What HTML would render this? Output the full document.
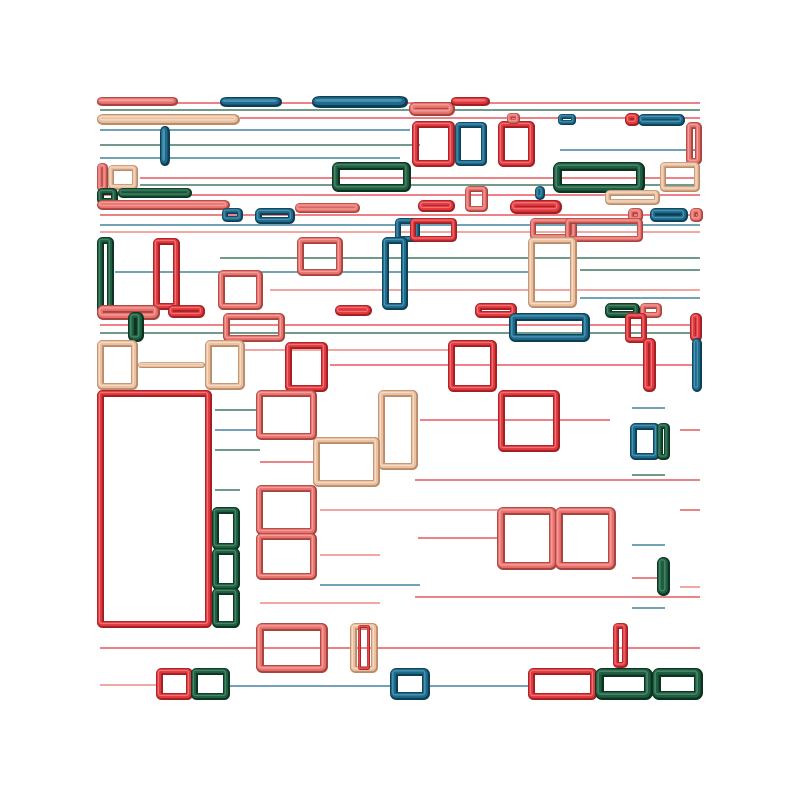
<!DOCTYPE html>
<html><head><meta charset="utf-8"><style>html,body{margin:0;padding:0;background:#fff;}svg{display:block}</style></head>
<body>
<svg id="s" width="800" height="800" xmlns="http://www.w3.org/2000/svg"></svg>
<script>
const C={r:['#9e1f24','#e0383d','#f58a8c'],s:['#a8443f','#e8736f','#f7b0ac'],b:['#bb8c6c','#e9c0a0','#fbe6d4'],u:['#0c3f55','#1e6a8a','#5fa2c0'],g:['#0b3321','#1f5e40','#5a9478']};
const L=[
[100,103,700,103,'r'],[100,110,700,110,'g'],[240,118,700,118,'r'],[100,130,410,130,'u'],[100,145,420,145,'g'],[100,158,400,158,'u'],[560,150,700,150,'u'],
[140,178,700,178,'r'],[140,185,700,185,'g'],[100,195,700,195,'r'],[100,215,700,215,'r'],[100,225,700,225,'u'],[100,232,700,232,'s'],[220,258,700,258,'g'],
[115,272,530,272,'u'],[270,290,700,290,'s'],[100,325,700,325,'r'],[100,333,700,333,'g'],[330,365,700,365,'r'],[245,350,450,350,'s'],[420,420,610,420,'r'],
[215,410,260,410,'g'],[215,430,260,430,'u'],[215,450,260,450,'g'],[215,490,240,490,'g'],[260,462,320,462,'r'],[415,480,700,480,'r'],[320,510,500,510,'s'],
[418,538,500,538,'r'],[320,555,380,555,'s'],[320,585,420,585,'u'],[415,597,700,597,'r'],[260,603,380,603,'s'],[100,648,700,648,'r'],[100,685,160,685,'s'],
[230,686,390,686,'u'],[430,686,530,686,'u'],[632,408,665,408,'u'],[632,475,665,475,'g'],[632,545,665,545,'u'],[632,578,665,578,'r'],[632,608,665,608,'u'],
[680,430,700,430,'r'],[680,510,700,510,'r'],[680,587,700,587,'s'],[580,270,700,270,'g'],[580,298,700,298,'u']
];
const R=[
[97,97,178,106,'s',8],[97,114,240,125,'b',8],[220,97,282,107,'u',9],[312,96,408,108,'u',11],[409,102,455,116,'s',8],[451,97,490,106,'r',8],
[160,126,170,166,'u',9],[412,121,455,167,'r',7],[455,122,487,166,'u',6],[498,121,535,167,'r',7],[507,113,520,124,'s',5],[558,114,576,125,'u',5],
[625,113,640,126,'r',7],[638,114,685,126,'u',7],[686,122,702,165,'s',7],[332,162,411,192,'g',8],[553,162,645,193,'g',9],[97,163,108,192,'s',6],
[108,165,138,190,'b',6],[660,162,700,192,'b',6],[97,188,118,205,'g',7],[118,188,192,198,'g',6],[97,200,230,210,'s',7],[222,208,243,222,'u',6],
[255,208,295,224,'u',7],[295,203,360,213,'s',6],[418,200,455,212,'r',7],[465,186,488,212,'s',6],[510,200,562,214,'r',8],[535,186,545,200,'u',6],
[605,190,660,205,'b',6],[628,208,643,222,'s',6],[650,208,688,222,'u',7],[690,208,703,222,'s',6],[395,218,420,242,'u',6],[410,218,457,242,'r',6],
[382,237,408,310,'u',7],[530,218,577,240,'s',6],[565,218,643,242,'s',6],[528,237,577,308,'b',7],[97,237,114,315,'g',7],[153,238,180,310,'r',7],
[297,237,343,276,'s',7],[218,270,263,310,'s',7],[97,305,160,320,'s',8],[168,305,205,318,'r',7],[335,305,372,316,'r',7],[475,303,517,318,'r',7],
[605,303,640,318,'g',7],[640,303,662,318,'s',6],[509,313,590,342,'u',8],[223,313,285,342,'s',7],[128,312,144,342,'g',8],[625,313,647,343,'r',6],
[643,338,656,392,'r',7],[690,313,702,342,'r',7],[692,338,702,392,'u',7],[97,340,138,390,'b',7],[205,340,245,390,'b',7],[138,362,205,368,'b',4],
[285,342,328,392,'r',7],[448,340,497,392,'r',7],[97,390,212,628,'r',7],[256,390,317,440,'s',7],[378,390,418,470,'b',7],[313,437,380,487,'b',7],
[498,390,560,452,'r',7],[630,423,660,460,'u',7],[657,423,670,460,'g',6],[256,485,317,535,'s',7],[256,533,317,580,'s',7],[212,507,240,550,'g',7],
[212,548,240,590,'g',7],[212,588,240,628,'g',7],[497,507,557,570,'s',8],[555,507,616,570,'s',8],[657,557,670,596,'g',8],[256,623,328,673,'s',8],
[350,623,378,673,'b',7],[358,625,370,670,'r',3],[613,623,628,668,'r',6],[156,668,193,700,'r',7],[191,668,230,700,'g',7],[390,668,430,700,'u',8],
[528,668,597,700,'r',7],[595,668,653,700,'g',9],[652,668,703,700,'g',9]
];
const s=document.getElementById('s');let h='';
for(const[a,b,c,d,k]of L){h+=`<line x1="${a}" y1="${b}" x2="${c}" y2="${d}" stroke="${C[k][1]}" stroke-width="1.3"/>`;}
for(const[a,b,c,d,k,w]of R){const x=a+w/2,y=b+w/2,W=Math.max(c-a-w,0.5),H=Math.max(d-b-w,0.5),r=w/2;
h+=`<rect x="${x}" y="${y}" width="${W}" height="${H}" rx="${r*0.6}" fill="none" stroke="${C[k][0]}" stroke-width="${w}"/>`;
h+=`<rect x="${x-w*0.08}" y="${y-w*0.08}" width="${W}" height="${H}" rx="${r*0.6}" fill="none" stroke="${C[k][1]}" stroke-width="${w*0.62}"/>`;
h+=`<rect x="${x-w*0.15}" y="${y-w*0.15}" width="${W}" height="${H}" rx="${r*0.6}" fill="none" stroke="${C[k][2]}" stroke-width="${w*0.18}" opacity="0.7"/>`;}
s.innerHTML=h;
</script>
</body></html>
